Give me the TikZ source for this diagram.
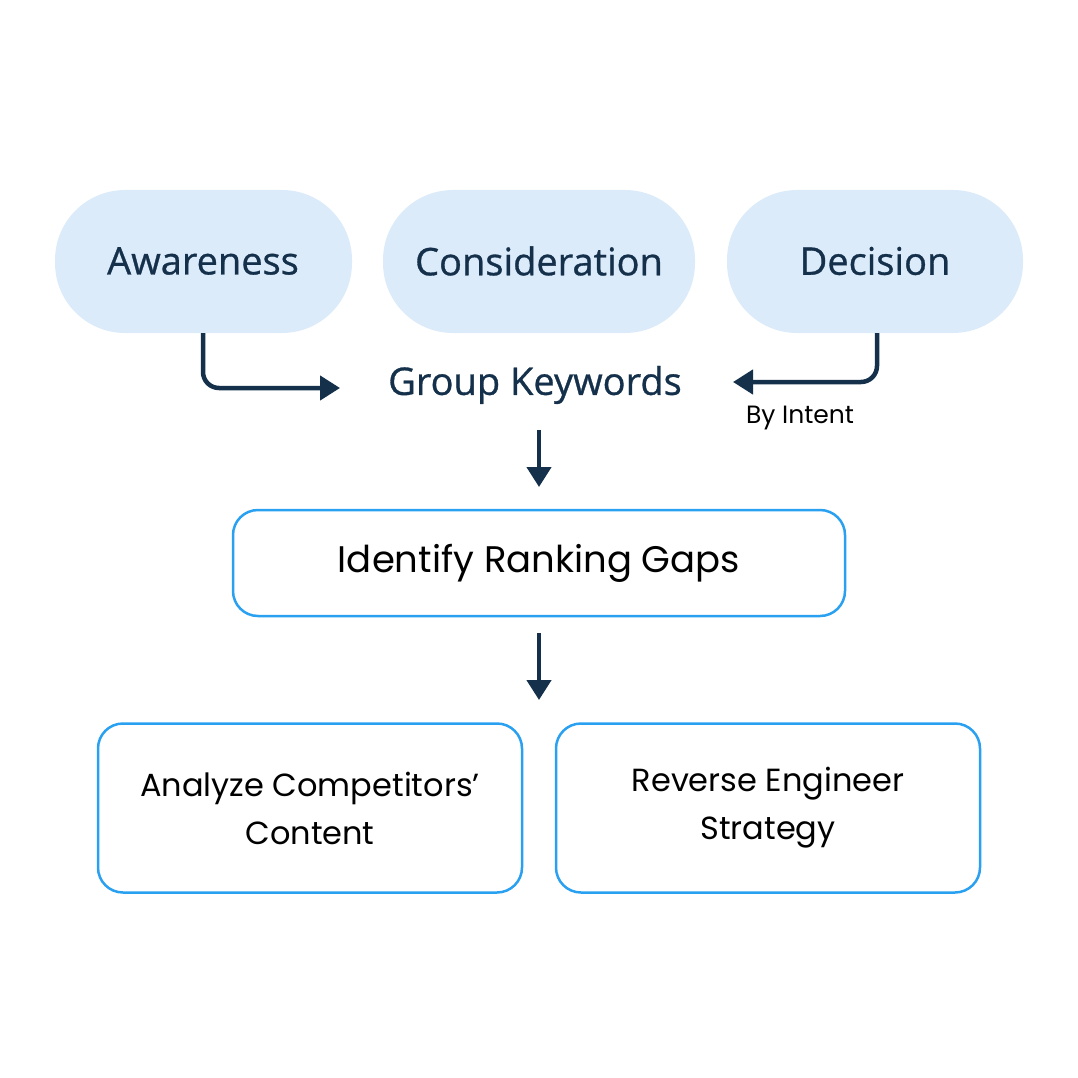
\documentclass[tikz,border=0pt]{standalone}
\usepackage{fontspec}
\setmainfont{Poppins}
\newfontfamily\topf[FakeBold=0.8]{Open Sans}
\usetikzlibrary{arrows.meta}
\definecolor{pill}{HTML}{DCEBFA}
\definecolor{navy}{HTML}{14304A}
\definecolor{edge}{HTML}{2AA0F0}
\begin{document}
\begin{tikzpicture}[x=1pt,y=-1pt,
  pillst/.style={fill=pill,rounded corners=70pt,font=\topf\fontsize{38}{42}\selectfont\color{navy}},
  box/.style={draw=edge,line width=2.5pt,rounded corners=25pt,fill=white,align=center,font=\fontsize{32}{48}\selectfont},
  arr/.style={draw=navy,line width=4.5pt,-{Triangle[length=20pt,width=24pt]},rounded corners=16pt}]
\useasboundingbox (0,0) rectangle (1078,1078);
\fill[pillst] (55,190) rectangle (352,333);
\node[pillst,fill=none] (aw) at (203,261) {Awareness};
\coordinate (awb) at (203,333);
\fill[pillst] (383,190) rectangle (695,333);
\node[pillst,fill=none] (co) at (539,261) {Consideration};
\fill[pillst] (727,190) rectangle (1023,333);
\node[pillst,fill=none] (de) at (875,261) {Decision};
\coordinate (deb) at (877,333);
\node[font=\topf\fontsize{38}{42}\selectfont,text=navy] (gk) at (535,385) {Group Keywords};
\node[font=\fontsize{25}{28}\selectfont] (bi) at (800,418) {By Intent};
\coordinate (a1) at (340,388);
\coordinate (a2) at (733,382);
\draw[arr] (awb) |- (a1);
\draw[arr] (deb) |- (a2);
\node[box,minimum width=612pt,minimum height=106pt] (ir) at (539,563) {\fontsize{37}{40}\selectfont Identify Ranking Gaps};
\coordinate (d1) at (539,487);
\draw[arr] (539,430) -- (d1);
\node[box,minimum width=424pt,minimum height=169pt] (ac) at (310,808) {Analyze Competitors’\\Content};
\node[box,minimum width=424pt,minimum height=169pt] (re) at (768,808) {Reverse Engineer\\Strategy};
\coordinate (d2) at (539,700);
\draw[arr] (ir.south)++(0,16) -- (d2);
\end{tikzpicture}
\end{document}
